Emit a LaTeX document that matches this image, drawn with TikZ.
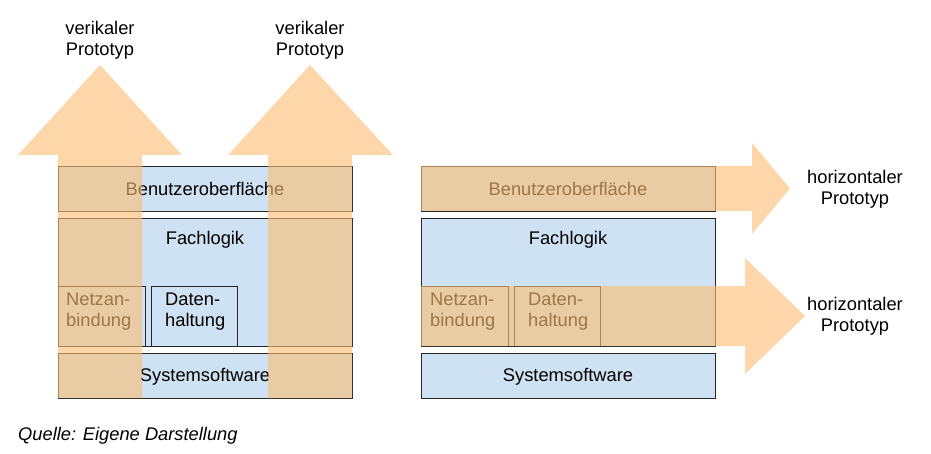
\documentclass[tikz,border=0pt]{standalone}
\usepackage{fontspec}
\setmainfont{Liberation Sans}
\begin{document}
\begin{tikzpicture}[x=1pt,y=-1pt,font=\fontsize{18.3}{21}\selectfont,
  layer/.style={draw=black!85,line width=0.7pt,fill=lblue},
  arr/.style={fill=aorange,fill opacity=0.62,draw=none},
  lbl/.style={align=center,inner sep=0pt}]
\definecolor{lblue}{HTML}{CFE2F3}
\definecolor{aorange}{HTML}{FBBF75}
\useasboundingbox (0,0) rectangle (931,454);
% left stack
\draw[layer] (58,166) rectangle (352,211);
\node[lbl] (lbo) at (205,189) {Benutzeroberfläche};
\draw[layer] (58,218) rectangle (352,346);
\node[lbl] (lfl) at (205,240) {Fachlogik};
\draw[layer] (58,286) rectangle (145,346);
\node[lbl,align=left,anchor=north west] (lnet) at (66,293) {Netzan-\\bindung};
\draw[layer] (151,286) rectangle (237,346);
\node[lbl,align=left,anchor=north west] (ldat) at (165,293) {Daten-\\haltung};
\draw[layer] (58,353) rectangle (352,398);
\node[lbl] (lsys) at (205,377) {Systemsoftware};
% right stack
\draw[layer] (421,166) rectangle (715,211);
\node[lbl] (rbo) at (568,189) {Benutzeroberfläche};
\draw[layer] (421,218) rectangle (715,346);
\node[lbl] (rfl) at (568,240) {Fachlogik};
\draw[layer] (421,286) rectangle (508,346);
\node[lbl,align=left,anchor=north west] (rnet) at (430,293) {Netzan-\\bindung};
\draw[layer] (514,286) rectangle (600,346);
\node[lbl,align=left,anchor=north west] (rdat) at (528,293) {Daten-\\haltung};
\draw[layer] (421,353) rectangle (715,398);
\node[lbl] (rsys) at (568,377) {Systemsoftware};
% vertical arrows
\fill[arr] (58,398) -- (58,155) -- (18,155) -- (100,65) -- (182,155) -- (142,155) -- (142,398) -- cycle;
\fill[arr] (268,398) -- (268,155) -- (228,155) -- (310,65) -- (393,155) -- (352,155) -- (352,398) -- cycle;
% horizontal arrows
\fill[arr] (421,166) -- (752,166) -- (752,143) -- (790,188.5) -- (752,234) -- (752,211) -- (421,211) -- cycle;
\fill[arr] (421,286) -- (745,286) -- (745,258) -- (805,316) -- (745,374) -- (745,346) -- (421,346) -- cycle;
% labels
\node[lbl] (t1) at (100,40) {verikaler\\Prototyp};
\node[lbl] (t2) at (310,40) {verikaler\\Prototyp};
\node[lbl] (t3) at (855,189) {horizontaler\\Prototyp};
\node[lbl] (t4) at (855,316) {horizontaler\\Prototyp};
\node[lbl,anchor=west,font=\fontsize{18.3}{21}\selectfont\itshape] (src) at (18,436) {Quelle: Eigene Darstellung};
\end{tikzpicture}
\end{document}
